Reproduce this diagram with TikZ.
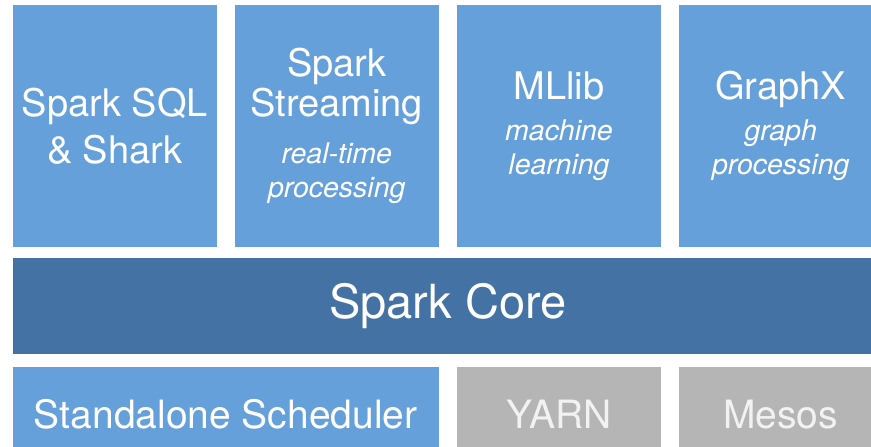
\documentclass[tikz,border=0pt]{standalone}
\usepackage{fontspec}
\setmainfont{TeX Gyre Heros}
\usetikzlibrary{positioning}
\definecolor{sparkblue}{RGB}{102,160,219}
\definecolor{coreblue}{RGB}{68,114,165}
\definecolor{mgray}{RGB}{181,181,181}
\definecolor{mtext}{RGB}{242,242,242}
\newcommand{\subtext}{\fontsize{28.5}{32}\selectfont\itshape}

\begin{document}
\begin{tikzpicture}[x=1pt, y=-1pt,
  box/.style={fill=sparkblue, text=white, inner sep=0pt, outer sep=0pt, align=center,
    minimum width=204.5pt, minimum height=242pt, font=\fontsize{38}{42}\selectfont},
  corebox/.style={box, fill=coreblue, minimum width=870.5pt, minimum height=96pt,
    font=\fontsize{47}{52}\selectfont},
  lowbox/.style={box, minimum height=96pt, font=\fontsize{39}{44}\selectfont},
  graybox/.style={lowbox, fill=mgray, text=mtext}]

  % Rahmen
  \useasboundingbox (0,0) rectangle (871,447);
  \clip (0,0) rectangle (871,447);

  % Obere Reihe
  \node[box] (sql) at (114.75,126) {Spark SQL\\[5pt]\& Shark};
  \node[box] (streaming) at (336.75,126)
    {Spark\\[-2pt]Streaming\\[5pt]\subtext real-time\\[-8pt]\subtext processing};
  \node[box] (mllib) at (559,126) {MLlib\\[-1pt]\subtext machine\\[-8pt]\subtext learning};
  \node[box] (graphx) at (780.75,126) {GraphX\\[-1pt]\subtext graph\\[-8pt]\subtext processing};

  % Kern
  \node[corebox] (core) at (447.75,306) {Spark Core};

  % Untere Reihe
  \node[lowbox, minimum width=426.5pt] (standalone) at (225.75,414.5) {Standalone Scheduler};
  \node[graybox] (yarn) at (559,414.5) {YARN};
  \node[graybox] (mesos) at (780.75,414.5) {Mesos};

\end{tikzpicture}
\end{document}
